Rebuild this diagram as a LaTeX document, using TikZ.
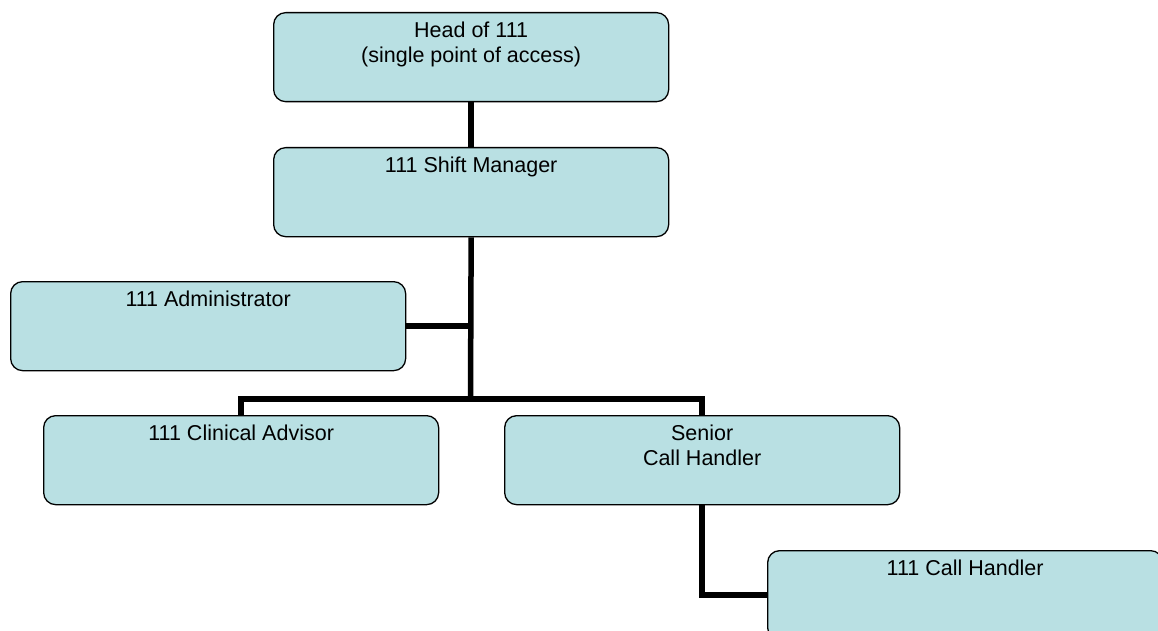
\documentclass[tikz,border=0pt]{standalone}
\usepackage{fontspec}
\setmainfont{Liberation Sans}
\usetikzlibrary{backgrounds}
\begin{document}
\begin{tikzpicture}[x=1pt,y=-1pt,
  box/.style={draw=black, line width=1.3pt, fill=boxfill, rounded corners=12pt,
    minimum width=395pt, minimum height=89pt, inner sep=0pt, anchor=north west},
  ttl/.style={anchor=north, yshift=-6.5pt, inner sep=3pt, align=center,
    font=\fontsize{21.5}{25}\selectfont},
  conn/.style={line width=5.5pt, line join=miter, line cap=butt}]
\definecolor{boxfill}{RGB}{185,224,227}
\useasboundingbox (0,0) rectangle (1158,631);
\clip (0,0) rectangle (1158,631);
% nodes
\node[box, label={[ttl]90:{Head of 111\\(single point of access)}}] (head) at (273,12) {};
\node[box, label={[ttl]90:{111 Shift Manager}}] (shift) at (273,147) {};
\node[box, label={[ttl]90:{111 Administrator}}] (adm) at (10,281) {};
\node[box, label={[ttl]90:{111 Clinical Advisor}}] (clin) at (43,415) {};
\node[box, label={[ttl]90:{Senior\\Call Handler}}] (sen) at (504,415) {};
\node[box, label={[ttl]90:{111 Call Handler}}] (call) at (767,550) {};
\coordinate (j) at (470.5,399);
% connectors
\begin{scope}[on background layer]
\draw[conn] (head.south) -- (shift.north);
\draw[conn] (shift.south) -- (j);
\draw[conn] (adm.east) -- (adm.east -| j);
\draw[conn] (clin.north) |- (j) -| (sen.north);
\draw[conn] (sen.south) |- (call.west);
\end{scope}
\end{tikzpicture}
\end{document}
